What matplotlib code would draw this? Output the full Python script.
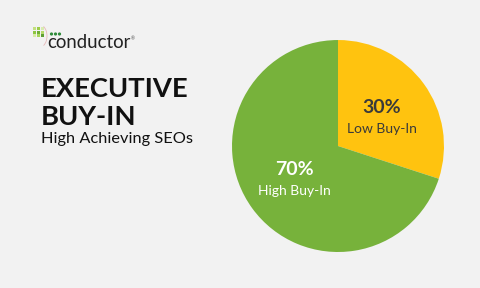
import numpy as np
import matplotlib.pyplot as plt
from matplotlib.patches import Arc

labels = ["Low Buy-In", "High Buy-In"]
values = [30, 70]
colors = ["#ffc30f", "#77b23b"]
text_colors = ["#3a3a3a", "#ffffff"]

plt.rcParams['font.family'] = ['Lato', 'DejaVu Sans']

fig = plt.figure(figsize=(4.8, 2.88), dpi=100)
fig.patch.set_facecolor("#f2f2f2")

# overlay in pixel coords for logo and titles
logo = fig.add_axes([0, 0, 1, 1])
logo.set_xlim(0, 480)
logo.set_ylim(288, 0)
logo.axis("off")
sq_cols = [["#c3e07e", "#9ccc4a", "#d9ecb0"],
           ["#8cc63f", "#6fae35", "#b5d96a"],
           ["#d7eba6", "#a9d65c", "#5f9f33"]]
for r in range(3):
    for c in range(3):
        logo.add_patch(plt.Rectangle((33 + c * 3.8, 27 + r * 3.6), 3.2, 3.0,
                                     color=sq_cols[r][c], lw=0))
logo.add_patch(Arc((40, 36), 14, 22, theta1=-70, theta2=70, color="#e6b8b8", lw=0.6))
for c in range(3):
    logo.add_patch(plt.Circle((51.5 + c * 4, 34), 1.6, color="#2e8b3a", lw=0))
logo.text(47, 48, "conductor", fontsize=13.4, color="#222222", ha="left",
          va="baseline")
logo.text(131, 40, "®", fontsize=3.5, color="#555555", ha="left", va="baseline")

# title
logo.text(41, 97, "EXECUTIVE", fontsize=19.7, fontweight="bold", color="#111111",
          va="baseline", ha="left")
logo.text(41, 125, "BUY-IN", fontsize=19.7, fontweight="bold", color="#111111",
          va="baseline", ha="left")
logo.text(41, 143, "High Achieving SEOs", fontsize=11.8, color="#111111",
          va="baseline", ha="left")

# pie
ax = fig.add_axes([0.4833, 0.125, 0.4417, 0.736])
ax.pie(values, colors=colors, startangle=90, counterclock=False,
       wedgeprops=dict(linewidth=0))
ax.set_xlim(-1, 1)
ax.set_ylim(-1, 1)
ax.set_aspect("equal")

pos = [(0.41, 0.36), (-0.41, -0.22)]
for i in range(len(values)):
    x, y = pos[i]
    ax.text(x, y, f"{values[i]}%", fontsize=14, fontweight="bold",
            color=text_colors[i], ha="center", va="center")
    ax.text(x, y - 0.2, labels[i], fontsize=10, color=text_colors[i],
            ha="center", va="center")

fig.savefig("out.png", dpi=100, facecolor=fig.get_facecolor())
